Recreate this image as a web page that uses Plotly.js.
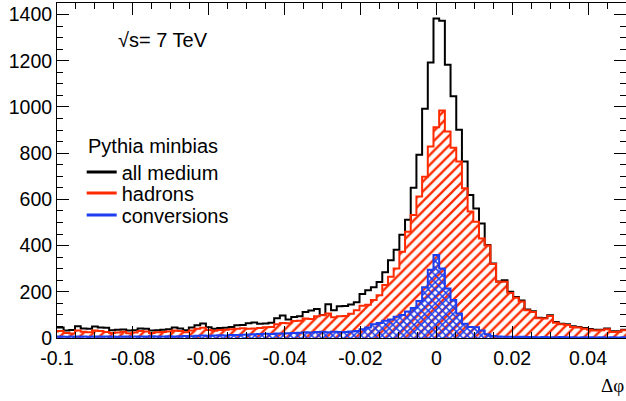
<!DOCTYPE html>
<html>
<head>
<meta charset="utf-8">
<script src="https://cdn.plot.ly/plotly-3.0.1.min.js"></script>
<style>html,body{margin:0;padding:0;background:#fff;}#plot{width:626px;height:401px;}</style>
</head>
<body>
<div id="plot"></div>
<script>
// Histogram binning (bin centres start at first bin, fixed bin width)
const binFirstCenter = -0.1005;
const binWidth = 0.0015;

// all medium (black), bins from -0.1005 to 0.051
const allMedium = [
  45,45,33,35,51,41,40,50,45,44, 34,36,37,33,34,41,40,33,34,36,
  38,45,41,34,45,55,63,46,40,43, 44,48,55,56,64,67,62,63,66,86,
  97,80,91,94,112,119,126,100,146,120, 137,138,145,155,190,207,220,242,285,337,
  382,447,512,650,793,992,1193,1383,1373,1183, 1046,901,764,619,561,496,402,323,245,250,
  200,178,162,123,116,88,87,98,69,62, 59,51,48,43,39,36,36,41,29,29,
  36,36
];
// hadrons (red)
const hadrons = [
  28,30,22,20,32,27,25,33,30,26, 22,24,27,21,24,30,28,22,25,26,
  28,32,30,25,33,40,44,35,31,35, 36,38,40,42,40,41,43,46,48,59,
  65,64,74,75,84,82,94,98,106,90, 94,95,105,120,140,144,164,185,229,265,
  301,373,460,532,612,698,829,912,985,894, 823,764,648,547,503,431,400,320,243,243,
  195,174,158,120,113,85,84,95,66,60, 56,48,45,40,36,33,34,38,26,27,
  34,34
];
// conversions (blue)
const conversions = [
  6,7,5,6,7,6,5,7,6,6, 7,5,6,7,6,7,6,8,7,6,
  8,7,8,9,8,10,11,10,11,12, 11,13,13,14,15,16,17,18,17,19,
  20,21,22,23,25,24,26,27,25,27, 26,26,28,30,38,45,60,65,75,80,
  92,100,115,130,160,220,295,359,301,214, 164,106,62,48,47,33,16,9,6,5,
  5,4,5,4,4,3,4,3,3,4, 3,3,2,3,3,2,3,2,3,2,
  3,2
];

const seriesNames = ['all medium', 'hadrons', 'conversions'];
const seriesColors = ['#000000', '#ff2a00', '#1d3df0'];
const legendHeader = 'Pythia minbias';
const energyLabel = '√s= 7 TeV';
const xAxisLabel = 'Δφ';

const xTickVals = [-0.1, -0.08, -0.06, -0.04, -0.02, 0, 0.02, 0.04];
const xTickText = ['-0.1', '-0.08', '-0.06', '-0.04', '-0.02', '0', '0.02', '0.04'];

const centers = allMedium.map((_, i) => binFirstCenter + i * binWidth);

const font = 'Liberation Sans, Arial, Helvetica, sans-serif';

const data = [
  {type:'bar', x:centers, y:hadrons, width:binWidth, showlegend:false, hoverinfo:'skip',
   marker:{color:seriesColors[1], line:{width:0}, pattern:{shape:'/', size:7, solidity:0.33, fgcolor:seriesColors[1]}}},
  {type:'bar', x:centers, y:conversions, width:binWidth, showlegend:false, hoverinfo:'skip',
   marker:{color:seriesColors[2], line:{width:0}, pattern:{shape:'x', size:5, solidity:0.5, fgcolor:seriesColors[2]}}},
  {type:'scatter', mode:'lines', x:centers, y:allMedium, line:{shape:'hvh', color:seriesColors[0], width:2}, showlegend:false, hoverinfo:'skip'},
  {type:'scatter', mode:'lines', x:centers, y:hadrons, line:{shape:'hvh', color:seriesColors[1], width:2}, showlegend:false, hoverinfo:'skip'},
  {type:'scatter', mode:'lines', x:centers, y:conversions, line:{shape:'hvh', color:seriesColors[2], width:2}, showlegend:false, hoverinfo:'skip'},
  // legend entries (one legend box per entry for tight ROOT-like spacing)
  {type:'scatter', mode:'lines', x:[null], y:[null], name:seriesNames[0], legend:'legend', line:{color:seriesColors[0], width:3}},
  {type:'scatter', mode:'lines', x:[null], y:[null], name:seriesNames[1], legend:'legend2', line:{color:seriesColors[1], width:3}},
  {type:'scatter', mode:'lines', x:[null], y:[null], name:seriesNames[2], legend:'legend3', line:{color:seriesColors[2], width:3}}
];

function legendAt(y) {
  return {x:0.0434, y:y, xanchor:'left', yanchor:'middle', bgcolor:'rgba(0,0,0,0)', borderwidth:0,
          font:{family:font, size:20, color:'#000'}, itemwidth:30};
}

const layout = {
  width:626, height:401,
  margin:{l:57, r:0, t:3, b:63},
  paper_bgcolor:'#fff', plot_bgcolor:'#fff',
  font:{family:font, size:19.5, color:'#000'},
  barmode:'overlay', bargap:0,
  xaxis:{range:[-0.1, 0.05], tickvals:xTickVals, ticktext:xTickText, ticks:'inside', ticklen:12, tickwidth:1, tickcolor:'#000',
         showline:true, linecolor:'#000', linewidth:1, mirror:'allticks', showgrid:false, zeroline:false,
         minor:{tick0:0, dtick:0.005, ticks:'inside', ticklen:6, tickcolor:'#000'},
         tickfont:{family:font, size:19.5, color:'#000'}, ticklabelstandoff:3},
  yaxis:{range:[0, 1450], tick0:0, dtick:200, ticks:'inside', ticklen:12, tickwidth:1, tickcolor:'#000',
         showline:true, linecolor:'#000', linewidth:1, mirror:'allticks', showgrid:false, zeroline:false,
         minor:{tick0:0, dtick:50, ticks:'inside', ticklen:6, tickcolor:'#000'},
         tickfont:{family:font, size:19.5, color:'#000'}},
  legend:legendAt(0.4955),
  legend2:legendAt(0.4328),
  legend3:legendAt(0.3672),
  annotations:[
    {xref:'paper', yref:'paper', x:0.1037, y:0.89, xanchor:'left', yanchor:'middle', showarrow:false,
     text:energyLabel, font:{family:font, size:20, color:'#000'}},
    {xref:'paper', yref:'paper', x:0.0505, y:0.572, xanchor:'left', yanchor:'middle', showarrow:false,
     text:legendHeader, font:{family:font, size:20, color:'#000'}},
    {xref:'paper', yref:'paper', x:1, y:-0.143, xanchor:'right', yanchor:'middle', showarrow:false,
     text:xAxisLabel, font:{family:'Liberation Serif, Times New Roman, serif', size:19, color:'#000'}}
  ]
};

Plotly.newPlot('plot', data, layout, {staticPlot:true, displayModeBar:false});
</script>
</body>
</html>
